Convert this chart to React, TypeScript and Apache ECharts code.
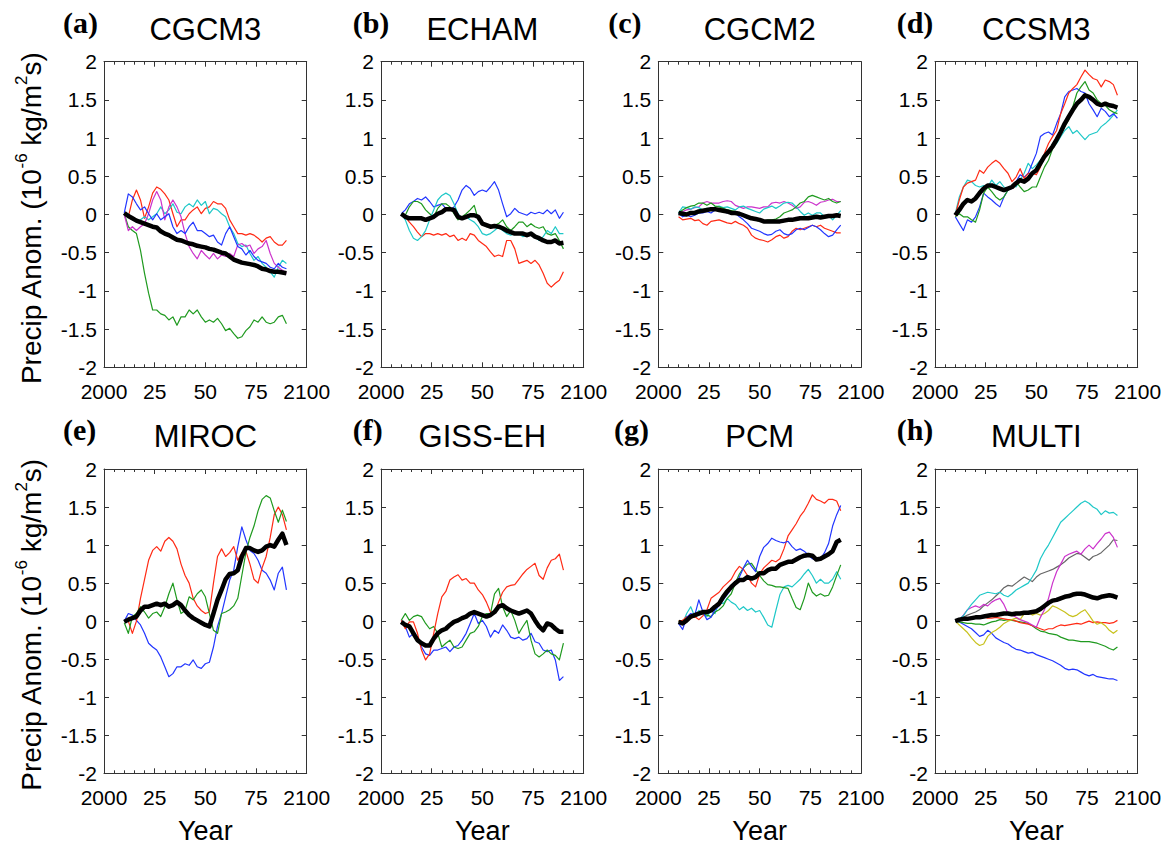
import React, { useEffect, useRef } from 'react';
import * as echarts from 'echarts';

// ---------- data (values every 2 years, 2010 .. 2090) ----------
const START_YEAR = 2010;
const YEAR_STEP = 2;

const panelTitles = ['CGCM3', 'ECHAM', 'CGCM2', 'CCSM3', 'MIROC', 'GISS-EH', 'PCM', 'MULTI'];
const panelLetters = ['(a)', '(b)', '(c)', '(d)', '(e)', '(f)', '(g)', '(h)'];
const xTickValues = [2000, 2025, 2050, 2075, 2100];
const xTickLabels = ['2000', '25', '50', '75', '2100'];
const yAxisTitleRich = 'Precip Anom. (10{sup|-6} kg/m{sup|2}s)';
const xAxisTitle = 'Year';

// (a) CGCM3
const a_mean = [0.02,-0.02,-0.05,-0.08,-0.10,-0.12,-0.14,-0.16,-0.17,-0.22,-0.25,-0.27,-0.30,-0.33,-0.34,-0.36,-0.38,-0.39,-0.41,-0.42,-0.43,-0.45,-0.46,-0.48,-0.50,-0.51,-0.55,-0.59,-0.61,-0.63,-0.64,-0.65,-0.66,-0.68,-0.71,-0.72,-0.74,-0.75,-0.75,-0.76,-0.77];
const a_red = [0.01,-0.03,0.19,0.32,0.19,-0.05,0.10,0.28,0.36,0.33,0.27,0.19,0.01,-0.16,-0.07,-0.07,0.01,0.06,0.10,0.01,0.08,0.10,0.17,0.14,0.14,0.08,-0.07,-0.16,-0.25,-0.25,-0.27,-0.25,-0.27,-0.31,-0.36,-0.31,-0.29,-0.36,-0.40,-0.40,-0.34];
const a_blue = [0.02,0.27,0.23,0.14,0.06,0.10,0.01,-0.07,0.01,-0.07,-0.03,0.01,-0.16,-0.25,-0.21,-0.25,-0.16,-0.10,-0.21,-0.21,-0.25,-0.29,-0.27,-0.36,-0.40,-0.25,-0.16,-0.29,-0.42,-0.45,-0.53,-0.47,-0.55,-0.60,-0.62,-0.64,-0.69,-0.71,-0.64,-0.69,-0.71];
const a_cyan = [0.01,0.01,-0.05,-0.10,-0.07,-0.03,-0.07,-0.03,0.01,0.10,0.01,0.06,0.14,0.03,0.01,0.10,0.14,0.10,0.19,0.12,0.17,0.01,0.08,0.06,0.01,-0.03,-0.16,-0.25,-0.38,-0.42,-0.40,-0.51,-0.60,-0.55,-0.64,-0.69,-0.75,-0.82,-0.69,-0.60,-0.64];
const a_magenta = [0.00,-0.21,-0.16,-0.21,-0.16,-0.12,0.01,0.19,0.30,0.19,-0.07,0.10,0.19,0.10,-0.03,-0.25,-0.42,-0.51,-0.58,-0.47,-0.53,-0.58,-0.51,-0.58,-0.53,-0.55,-0.51,-0.55,-0.40,-0.38,-0.42,-0.40,-0.51,-0.45,-0.42,-0.34,-0.51,-0.64,-0.69,-0.73,-0.77];
const a_green = [0.01,-0.16,-0.21,-0.25,-0.47,-0.77,-1.03,-1.25,-1.25,-1.30,-1.32,-1.38,-1.34,-1.45,-1.34,-1.34,-1.25,-1.30,-1.25,-1.34,-1.41,-1.38,-1.41,-1.36,-1.43,-1.52,-1.49,-1.56,-1.62,-1.60,-1.52,-1.47,-1.38,-1.41,-1.34,-1.41,-1.43,-1.41,-1.34,-1.32,-1.43];

// (b) ECHAM
const b_mean = [0.01,-0.03,-0.05,-0.05,-0.05,-0.05,-0.07,-0.05,-0.03,0.01,0.03,0.07,0.07,0.06,-0.03,-0.05,-0.03,-0.01,-0.01,-0.03,-0.12,-0.14,-0.16,-0.15,-0.16,-0.18,-0.21,-0.23,-0.25,-0.25,-0.25,-0.27,-0.25,-0.29,-0.31,-0.34,-0.36,-0.36,-0.34,-0.38,-0.37];
const b_blue = [0.01,0.06,0.14,0.17,0.21,0.19,0.23,0.17,0.10,0.12,0.14,0.08,0.06,0.10,0.19,0.32,0.38,0.34,0.25,0.30,0.32,0.30,0.36,0.43,0.32,0.14,-0.03,0.01,0.08,0.03,0.01,-0.01,0.03,0.01,0.03,0.01,0.06,0.01,0.06,-0.05,0.03];
const b_green = [0.01,-0.01,0.10,0.17,0.17,0.14,0.06,0.01,-0.03,0.08,0.14,0.14,0.10,0.01,-0.07,-0.03,0.01,0.06,0.12,-0.07,-0.12,-0.16,-0.16,-0.14,-0.12,-0.07,-0.16,-0.21,-0.16,-0.10,-0.10,-0.16,-0.12,-0.16,-0.18,-0.16,-0.25,-0.27,-0.25,-0.34,-0.45];
const b_cyan = [0.01,-0.07,-0.21,-0.31,-0.34,-0.29,-0.21,-0.07,0.06,0.19,0.25,0.28,0.25,0.14,0.01,-0.05,-0.03,-0.07,-0.10,-0.16,-0.25,-0.27,-0.25,-0.21,-0.16,-0.21,-0.25,-0.27,-0.25,-0.25,-0.29,-0.27,-0.25,-0.29,-0.34,-0.29,-0.21,-0.25,-0.16,-0.25,-0.25];
const b_red = [0.01,-0.03,-0.10,-0.16,-0.23,-0.29,-0.25,-0.25,-0.27,-0.25,-0.27,-0.25,-0.29,-0.27,-0.34,-0.31,-0.34,-0.25,-0.27,-0.34,-0.38,-0.42,-0.49,-0.55,-0.53,-0.55,-0.34,-0.34,-0.45,-0.64,-0.62,-0.60,-0.64,-0.60,-0.66,-0.77,-0.90,-0.95,-0.90,-0.86,-0.75];

// (c) CGCM2
const c_mean = [0.02,0.01,0.00,0.02,0.02,0.04,0.05,0.06,0.07,0.07,0.06,0.05,0.04,0.02,0.02,0.01,-0.01,-0.03,-0.05,-0.06,-0.07,-0.09,-0.09,-0.09,-0.09,-0.09,-0.08,-0.07,-0.07,-0.06,-0.05,-0.05,-0.05,-0.04,-0.03,-0.04,-0.03,-0.02,-0.02,-0.01,-0.02];
const c_green = [0.02,0.06,0.09,0.11,0.12,0.15,0.15,0.12,0.15,0.11,0.10,0.08,0.06,0.05,0.04,0.02,-0.01,-0.04,-0.06,-0.07,-0.09,-0.09,-0.07,-0.07,-0.06,-0.03,0.02,0.04,0.06,0.10,0.15,0.17,0.23,0.25,0.23,0.21,0.19,0.21,0.17,0.15,0.17];
const c_magenta = [0.02,0.04,0.06,0.07,0.09,0.10,0.15,0.17,0.15,0.15,0.15,0.17,0.18,0.17,0.12,0.10,0.08,0.10,0.10,0.09,0.08,0.10,0.10,0.15,0.16,0.15,0.17,0.15,0.12,0.08,0.10,0.16,0.17,0.15,0.12,0.16,0.17,0.19,0.20,0.17,0.17];
const c_cyan = [0.02,0.10,0.09,0.07,0.10,0.09,0.06,0.08,0.07,0.10,0.11,0.09,0.10,0.08,0.06,0.10,0.11,0.08,0.06,0.04,0.02,0.07,0.09,0.11,0.08,0.11,0.15,0.16,0.15,0.10,0.04,-0.01,0.02,-0.01,0.02,0.02,-0.03,-0.01,-0.07,-0.01,0.05];
const c_blue = [0.02,-0.03,-0.01,-0.03,-0.01,0.02,0.02,0.04,0.02,0.06,0.05,0.04,0.02,0.02,0.02,-0.03,-0.07,-0.12,-0.18,-0.20,-0.22,-0.25,-0.27,-0.26,-0.22,-0.20,-0.25,-0.27,-0.25,-0.20,-0.18,-0.20,-0.17,-0.14,-0.16,-0.20,-0.25,-0.29,-0.27,-0.20,-0.14];
const c_red = [-0.03,-0.07,-0.06,-0.05,-0.08,-0.07,-0.12,-0.14,-0.09,-0.08,-0.07,-0.09,-0.11,-0.12,-0.09,-0.12,-0.14,-0.18,-0.27,-0.31,-0.33,-0.34,-0.36,-0.33,-0.29,-0.27,-0.31,-0.29,-0.22,-0.18,-0.20,-0.18,-0.16,-0.14,-0.16,-0.14,-0.18,-0.20,-0.22,-0.24,-0.24];

// (d) CCSM3
const d_mean = [-0.01,0.06,0.14,0.19,0.17,0.21,0.28,0.34,0.38,0.38,0.36,0.34,0.32,0.34,0.36,0.41,0.45,0.43,0.47,0.54,0.58,0.67,0.76,0.82,0.89,0.98,1.08,1.19,1.28,1.37,1.45,1.50,1.56,1.54,1.50,1.45,1.43,1.45,1.43,1.42,1.40];
const d_red = [-0.01,0.19,0.36,0.41,0.43,0.45,0.58,0.54,0.62,0.67,0.71,0.67,0.60,0.54,0.43,0.49,0.60,0.47,0.54,0.54,0.52,0.62,0.80,0.93,1.02,1.10,1.32,1.45,1.59,1.65,1.70,1.80,1.89,1.83,1.78,1.76,1.67,1.76,1.74,1.70,1.56];
const d_blue = [-0.03,-0.12,-0.21,-0.07,-0.10,-0.03,0.10,0.28,0.23,0.19,0.14,0.10,0.23,0.32,0.34,0.43,0.52,0.49,0.54,0.67,0.80,1.02,1.06,1.08,1.04,1.19,1.32,1.54,1.61,1.63,1.65,1.61,1.59,1.45,1.37,1.28,1.39,1.35,1.28,1.32,1.26];
const d_green = [-0.03,0.01,-0.03,-0.03,-0.07,-0.10,0.06,0.28,0.36,0.30,0.23,0.19,0.23,0.32,0.36,0.43,0.36,0.30,0.32,0.36,0.36,0.49,0.62,0.71,0.86,0.95,1.06,1.15,1.24,1.41,1.59,1.67,1.74,1.63,1.59,1.50,1.45,1.43,1.37,1.34,1.32];
const d_cyan = [0.01,0.23,0.36,0.45,0.43,0.38,0.36,0.38,0.36,0.45,0.38,0.43,0.36,0.34,0.38,0.36,0.45,0.54,0.67,0.60,0.65,0.71,0.76,0.84,0.89,0.93,1.02,1.10,1.15,1.06,1.10,1.04,0.98,1.04,1.06,1.08,1.15,1.19,1.24,1.30,1.37];

// (e) MIROC
const e_mean = [-0.01,0.02,0.04,0.06,0.14,0.19,0.19,0.21,0.23,0.21,0.23,0.19,0.21,0.25,0.21,0.14,0.08,0.04,0.01,-0.02,-0.05,-0.07,0.10,0.28,0.41,0.55,0.62,0.63,0.67,0.85,0.96,0.96,0.93,0.91,0.93,0.98,1.00,0.98,1.07,1.15,1.00];
const e_red = [0.01,0.00,-0.16,0.00,0.30,0.55,0.80,0.93,0.98,0.92,1.05,1.10,1.05,0.95,0.75,0.60,0.50,0.30,0.20,0.14,0.10,0.12,0.50,0.85,0.95,0.85,0.90,0.98,0.80,0.90,0.92,0.75,0.55,0.50,0.70,0.85,1.10,1.40,1.50,1.40,1.20];
const e_green = [-0.02,-0.16,0.06,0.10,0.19,0.12,0.04,0.10,0.12,0.06,0.19,0.36,0.50,0.28,0.10,0.14,0.32,0.28,0.36,0.41,0.32,0.10,-0.12,-0.16,0.10,0.12,0.15,0.20,0.30,0.60,0.90,1.10,1.25,1.45,1.60,1.65,1.62,1.45,1.30,1.46,1.31];
const e_blue = [0.00,0.10,0.08,0.01,-0.05,-0.16,-0.29,-0.34,-0.38,-0.47,-0.60,-0.73,-0.69,-0.60,-0.60,-0.56,-0.58,-0.51,-0.60,-0.62,-0.56,-0.54,-0.34,-0.07,0.10,0.32,0.54,0.67,0.98,1.24,1.07,0.93,0.89,0.80,0.67,0.63,0.54,0.41,0.63,0.71,0.41];

// (f) GISS-EH
const f_mean = [-0.01,-0.05,-0.07,-0.16,-0.25,-0.29,-0.32,-0.32,-0.23,-0.16,-0.12,-0.10,-0.05,-0.01,0.01,0.04,0.06,0.10,0.12,0.10,0.08,0.06,0.08,0.12,0.19,0.21,0.17,0.14,0.12,0.10,0.12,0.14,0.10,0.01,-0.07,-0.12,-0.03,-0.05,-0.10,-0.14,-0.14];
const f_red = [0.01,-0.10,-0.01,-0.01,-0.16,-0.38,-0.51,-0.43,-0.16,0.10,0.32,0.39,0.54,0.58,0.61,0.54,0.56,0.50,0.50,0.41,0.35,0.25,0.12,0.10,0.25,0.38,0.45,0.47,0.48,0.55,0.62,0.68,0.72,0.76,0.60,0.55,0.70,0.80,0.82,0.88,0.67];
const f_green = [0.01,0.10,0.01,0.06,0.08,0.06,-0.03,-0.10,-0.07,-0.16,-0.34,-0.29,-0.25,-0.34,-0.36,-0.34,-0.25,-0.16,-0.14,-0.07,0.06,0.10,0.10,0.36,0.43,0.19,0.06,0.14,0.01,-0.16,-0.07,0.01,-0.25,-0.43,-0.47,-0.43,-0.38,-0.43,-0.45,-0.51,-0.29];
const f_blue = [0.01,-0.07,-0.21,-0.16,-0.21,-0.34,-0.43,-0.45,-0.38,-0.38,-0.36,-0.34,-0.40,-0.34,-0.32,-0.25,-0.16,-0.03,0.10,-0.03,0.01,-0.07,-0.21,-0.12,-0.16,-0.05,-0.12,-0.21,-0.23,-0.21,-0.25,-0.23,-0.16,-0.27,-0.29,-0.38,-0.40,-0.38,-0.51,-0.78,-0.73];

// (g) PCM
const g_mean = [-0.01,-0.03,0.01,0.06,0.08,0.10,0.12,0.12,0.14,0.19,0.23,0.32,0.39,0.45,0.50,0.54,0.54,0.58,0.56,0.58,0.63,0.63,0.67,0.69,0.69,0.74,0.76,0.78,0.78,0.81,0.84,0.86,0.87,0.86,0.81,0.82,0.85,0.88,0.92,1.04,1.07];
const g_red = [0.00,0.01,0.06,0.04,0.06,0.02,0.07,0.15,0.30,0.34,0.38,0.45,0.50,0.55,0.65,0.72,0.68,0.60,0.50,0.45,0.62,0.70,0.75,0.80,0.78,0.82,0.95,1.12,1.20,1.28,1.38,1.45,1.55,1.66,1.60,1.58,1.55,1.60,1.60,1.58,1.45];
const g_blue = [-0.03,-0.11,0.05,0.10,0.08,0.28,0.12,0.02,0.05,0.15,0.20,0.28,0.35,0.42,0.50,0.58,0.70,0.80,0.72,0.65,0.85,0.97,1.02,1.09,1.06,1.04,1.03,1.05,0.98,0.93,0.95,0.92,0.87,0.82,0.80,0.82,0.90,1.02,1.25,1.40,1.52];
const g_green = [0.00,0.01,0.04,0.06,0.05,0.09,0.10,0.08,0.06,0.12,0.15,0.20,0.30,0.36,0.50,0.62,0.70,0.75,0.76,0.68,0.60,0.53,0.48,0.47,0.45,0.45,0.44,0.43,0.30,0.18,0.15,0.30,0.50,0.38,0.33,0.36,0.33,0.34,0.45,0.60,0.74];
const g_cyan = [0.00,-0.03,0.10,0.19,0.06,0.14,0.10,0.06,0.14,0.10,0.25,0.23,0.30,0.25,0.22,0.15,0.19,0.14,0.17,0.12,0.14,0.05,-0.05,-0.08,0.14,0.35,0.45,0.47,0.45,0.50,0.55,0.62,0.68,0.60,0.50,0.55,0.50,0.50,0.55,0.65,0.55];

// (h) MULTI
const h_mean = [0.00,0.02,0.03,0.03,0.04,0.05,0.05,0.06,0.07,0.08,0.08,0.09,0.10,0.10,0.09,0.10,0.10,0.11,0.11,0.12,0.13,0.16,0.20,0.24,0.27,0.28,0.30,0.32,0.33,0.35,0.36,0.36,0.35,0.33,0.31,0.30,0.32,0.33,0.34,0.33,0.31];
const h_cyan = [0.00,0.03,0.07,0.15,0.22,0.28,0.34,0.36,0.38,0.37,0.36,0.38,0.34,0.32,0.36,0.41,0.44,0.47,0.50,0.58,0.67,0.82,0.92,1.00,1.10,1.20,1.30,1.35,1.40,1.45,1.50,1.55,1.58,1.55,1.50,1.47,1.40,1.45,1.42,1.43,1.39];
const h_gray = [0.00,0.02,0.05,0.08,0.10,0.12,0.15,0.20,0.24,0.28,0.33,0.38,0.44,0.47,0.46,0.50,0.54,0.58,0.55,0.52,0.58,0.62,0.64,0.66,0.68,0.71,0.74,0.78,0.83,0.86,0.89,0.88,0.84,0.80,0.85,0.87,0.90,0.95,1.00,1.07,1.06];
const h_magenta = [0.00,0.02,0.08,0.15,0.18,0.20,0.18,0.22,0.20,0.25,0.28,0.30,0.22,0.10,0.08,0.05,0.02,0.00,-0.02,-0.05,-0.08,0.05,0.15,0.30,0.50,0.65,0.75,0.85,0.88,0.90,0.92,0.88,0.95,1.00,0.95,1.02,1.08,1.15,1.17,1.10,0.97];
const h_yellow = [0.00,-0.05,-0.10,-0.15,-0.22,-0.28,-0.32,-0.30,-0.20,-0.15,-0.12,-0.08,-0.03,0.00,0.02,0.04,0.02,0.10,0.12,0.08,0.10,0.08,0.10,0.14,0.20,0.18,0.15,0.12,0.08,0.06,0.08,0.12,0.15,0.08,0.00,-0.04,-0.02,-0.06,-0.12,-0.16,-0.12];
const h_red = [0.00,0.01,0.02,0.03,0.04,0.05,0.06,0.06,0.04,0.04,0.05,0.04,0.03,0.02,0.02,0.00,-0.02,-0.03,-0.04,-0.06,-0.08,-0.10,-0.12,-0.10,-0.10,-0.07,-0.05,-0.06,-0.05,-0.04,-0.03,-0.04,-0.02,0.00,-0.02,-0.01,-0.02,-0.02,-0.03,-0.02,0.01];
const h_green = [0.00,-0.01,-0.02,-0.03,-0.03,-0.04,-0.04,-0.05,-0.03,-0.01,0.00,0.02,0.01,0.02,0.01,0.00,-0.01,-0.02,-0.03,-0.06,-0.10,-0.13,-0.14,-0.16,-0.17,-0.18,-0.21,-0.23,-0.25,-0.25,-0.26,-0.27,-0.27,-0.27,-0.28,-0.29,-0.31,-0.33,-0.36,-0.38,-0.34];
const h_blue = [0.00,-0.01,-0.04,-0.07,-0.10,-0.15,-0.20,-0.18,-0.12,-0.16,-0.22,-0.25,-0.28,-0.30,-0.34,-0.37,-0.38,-0.40,-0.42,-0.41,-0.44,-0.46,-0.48,-0.50,-0.52,-0.55,-0.58,-0.62,-0.64,-0.63,-0.64,-0.67,-0.70,-0.72,-0.70,-0.73,-0.74,-0.75,-0.76,-0.76,-0.78];

// ---------- styling ----------
const COLORS: Record<string, string> = {
  red: '#ff2a14',
  blue: '#2236ff',
  green: '#1f9a1f',
  cyan: '#1fc8c8',
  magenta: '#cc33cc',
  yellow: '#c8c21e',
  gray: '#666666',
  black: '#000000',
};

type LineDef = [string, number[]];
const PANEL_LINES: LineDef[][] = [
  [['green', a_green], ['red', a_red], ['cyan', a_cyan], ['magenta', a_magenta], ['blue', a_blue], ['black', a_mean]],
  [['red', b_red], ['blue', b_blue], ['green', b_green], ['cyan', b_cyan], ['black', b_mean]],
  [['red', c_red], ['blue', c_blue], ['magenta', c_magenta], ['cyan', c_cyan], ['green', c_green], ['black', c_mean]],
  [['cyan', d_cyan], ['blue', d_blue], ['green', d_green], ['red', d_red], ['black', d_mean]],
  [['blue', e_blue], ['red', e_red], ['green', e_green], ['black', e_mean]],
  [['blue', f_blue], ['green', f_green], ['red', f_red], ['black', f_mean]],
  [['cyan', g_cyan], ['green', g_green], ['red', g_red], ['blue', g_blue], ['black', g_mean]],
  [['blue', h_blue], ['green', h_green], ['red', h_red], ['yellow', h_yellow], ['gray', h_gray], ['magenta', h_magenta], ['cyan', h_cyan], ['black', h_mean]],
];

const SANS = '"Liberation Sans", Arial, Helvetica, sans-serif';
const SERIF = '"Liberation Serif", "Times New Roman", serif';
const AXIS_COLOR = '#333333';

const LEFTS = [104, 381, 658.3, 935];
const PANEL_W = 202.7;
const TOPS = [61.7, 469];
const HEIGHTS = [305.6, 304.3];
const LETTER_X = [63, 352.7, 608.3, 896.7];
const LETTER_X_ROW2 = [63, 352.7, 614, 896.7];

function buildOption() {
  const grid: any[] = [];
  const xAxis: any[] = [];
  const yAxis: any[] = [];
  const series: any[] = [];
  const graphic: any[] = [];

  const line = { show: true, onZero: false, lineStyle: { color: AXIS_COLOR, width: 1 } };
  const tick = { show: true, inside: true, length: 5, lineStyle: { color: AXIS_COLOR, width: 1 } };

  PANEL_LINES.forEach((lines, i) => {
    const col = i % 4;
    const row = Math.floor(i / 4);
    const left = LEFTS[col];
    const top = TOPS[row];
    const height = HEIGHTS[row];
    grid.push({ left, top, width: PANEL_W, height, containLabel: false, outerBoundsMode: 'none', show: false });

    const xBase = {
      gridIndex: i,
      type: 'value',
      min: 2000,
      max: 2100,
      interval: 25,
      axisLine: line,
      axisTick: tick,
      minorTick: { show: true, splitNumber: 5, length: 3, lineStyle: { color: AXIS_COLOR, width: 1 } },
      splitLine: { show: false },
      minorSplitLine: { show: false },
    };
    xAxis.push({
      ...xBase,
      position: 'bottom',
      axisLabel: {
        show: true,
        margin: 16,
        color: '#000',
        fontSize: 21,
        lineHeight: 16,
        fontFamily: SANS,
        formatter: (v: number) => {
          const k = xTickValues.indexOf(Math.round(v));
          return k >= 0 ? xTickLabels[k] : '';
        },
      },
    });
    xAxis.push({ ...xBase, position: 'top', axisLabel: { show: false } });

    const yBase = {
      gridIndex: i,
      type: 'value',
      min: -2,
      max: 2,
      interval: 0.5,
      axisLine: line,
      axisTick: tick,
      splitLine: { show: false },
    };
    yAxis.push({
      ...yBase,
      position: 'left',
      axisLabel: {
        show: true,
        margin: 7,
        color: '#000',
        fontSize: 21,
        lineHeight: 16,
        fontFamily: SANS,
        formatter: (v: number) => String(Math.round(v * 10) / 10),
      },
    });
    yAxis.push({ ...yBase, position: 'right', axisLabel: { show: false } });

    lines.forEach(([key, values]) => {
      const isMean = key === 'black';
      series.push({
        type: 'line',
        xAxisIndex: 2 * i,
        yAxisIndex: 2 * i,
        data: values.map((v, k) => [START_YEAR + YEAR_STEP * k, v]),
        showSymbol: false,
        symbol: 'none',
        silent: true,
        z: isMean ? 4 : 3,
        lineStyle: { color: COLORS[key], width: isMean ? 4.5 : 1.2, join: 'round' },
      });
    });

    const cx = left + PANEL_W / 2;
    const rowShift = row === 0 ? 0 : 407;
    graphic.push({
      type: 'text',
      x: cx,
      y: 29.5 + rowShift,
      style: { text: panelTitles[i], fontSize: 31, fontFamily: SANS, fill: '#000', align: 'center', verticalAlign: 'middle' },
    });
    graphic.push({
      type: 'text',
      x: row === 0 ? LETTER_X[col] : LETTER_X_ROW2[col],
      y: 22 + rowShift,
      style: { text: panelLetters[i], fontSize: 30, fontWeight: 'bold', fontFamily: SERIF, fill: '#000', align: 'left', verticalAlign: 'middle' },
    });
    if (row === 1) {
      graphic.push({
        type: 'text',
        x: cx,
        y: 831,
        style: { text: xAxisTitle, fontSize: 27, fontFamily: SANS, fill: '#000', align: 'center', verticalAlign: 'middle' },
      });
    }
    if (col === 0) {
      graphic.push({
        type: 'text',
        x: 31,
        y: top + height / 2 + 4,
        rotation: Math.PI / 2,
        style: {
          text: yAxisTitleRich,
          fontSize: 28,
          fontFamily: SANS,
          fill: '#000',
          align: 'center',
          verticalAlign: 'middle',
          lineHeight: 36,
          rich: {
            sup: { fontSize: 17, fontFamily: SANS, fill: '#000', verticalAlign: 'top', lineHeight: 17 },
          },
        },
      });
    }
  });

  return {
    animation: false,
    backgroundColor: '#ffffff',
    textStyle: { fontFamily: SANS },
    grid,
    xAxis,
    yAxis,
    series,
    graphic,
  };
}

export default function App() {
  const ref = useRef<HTMLDivElement>(null);
  useEffect(() => {
    if (!ref.current) return;
    const chart = echarts.init(ref.current, null, { renderer: 'svg' });
    chart.setOption(buildOption() as any);
    return () => chart.dispose();
  }, []);
  return (
    <div
      ref={ref}
      style={{ position: 'fixed', left: 0, top: 0, width: 1173, height: 846, background: '#fff' }}
    />
  );
}
